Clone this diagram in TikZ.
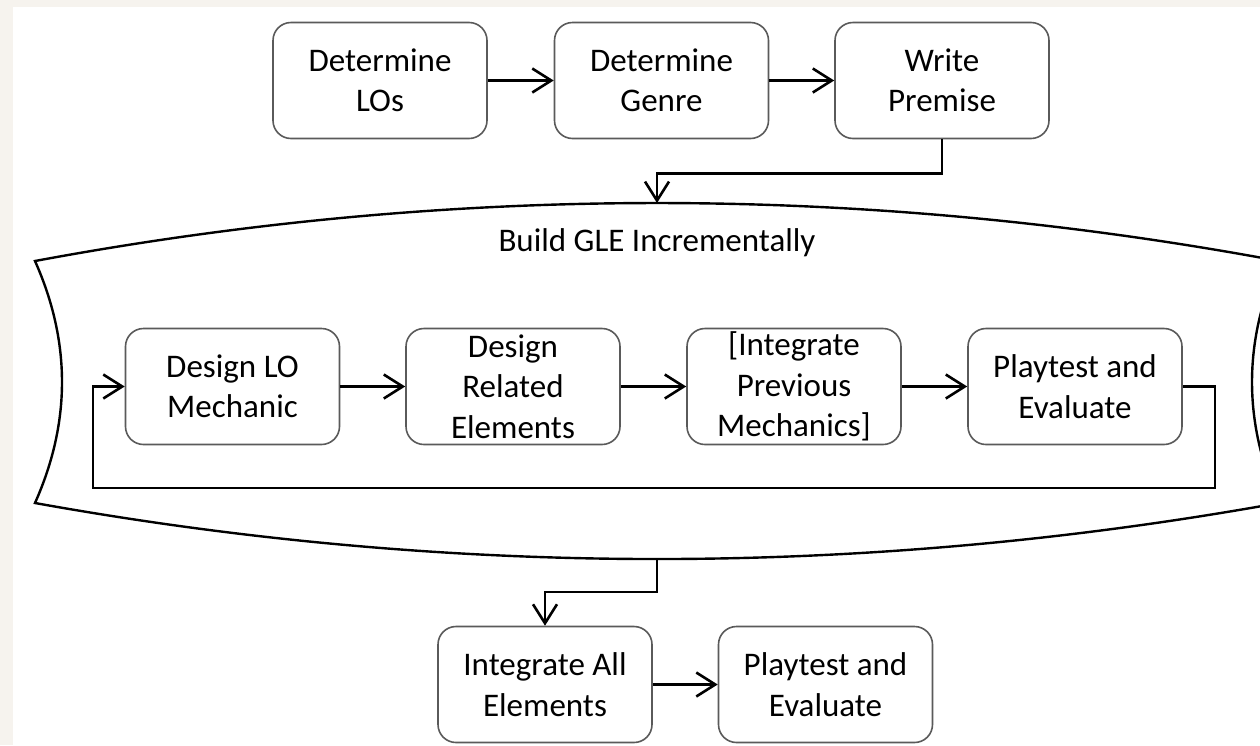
\documentclass[tikz,border=0pt]{standalone}
\usepackage{fontspec}
\setmainfont{Carlito}
\usetikzlibrary{arrows.meta,calc}
\definecolor{pagebg}{HTML}{F6F3EE}
\definecolor{boxline}{HTML}{5A5A5A}
\tikzset{
  stepbox/.style={draw=boxline, line width=1.6pt, rounded corners=18pt, fill=white,
    minimum width=214pt, minimum height=116pt, inner sep=0pt, align=center,
    font=\fontsize{33}{40.5}\selectfont},
  conn/.style={draw=black, line width=2.6pt,
    -{Straight Barb[length=19pt,width=24pt]}},
  plainline/.style={draw=black, line width=2.6pt},
  outline/.style={draw=black, line width=2.4pt}
}
\begin{document}
\begin{tikzpicture}[x=1pt, y=-1pt]
  % page and white sheet
  \fill[pagebg] (0,0) rectangle (1260,745);
  \fill[white] (13,7) rectangle (1260,745);
  \useasboundingbox (0,0) rectangle (1260,745);

  % top row
  \node[stepbox] (lo)      at (380,80.5)   {Determine\\LOs};
  \node[stepbox] (genre)   at (661.5,80.5) {Determine\\Genre};
  \node[stepbox] (premise) at (942,80.5)   {Write\\Premise};

  % incremental build container
  \draw[outline, fill=white]
    (35,261) .. controls (449.7,183.7) and (864.3,183.7) .. (1279,261)
    .. controls (1243,341.7) and (1243,422.3) .. (1279,503)
    .. controls (864.3,577.7) and (449.7,577.7) .. (35,503)
    .. controls (71,422.3) and (71,341.7) .. (35,261) -- cycle;
  \coordinate (gletop) at (657,203);
  \coordinate (glebot) at (657,559);
  \node[font=\fontsize{33}{40.5}\selectfont] (gletitle) at (657,243) {Build GLE Incrementally};

  % inner loop
  \node[stepbox] (mech)    at (232.5,386.5) {Design LO\\Mechanic};
  \node[stepbox] (related) at (513,386.5)   {Design\\Related\\Elements};
  \node[stepbox] (integ)   at (794,386.5)   {[Integrate\\Previous\\Mechanics]};
  \node[stepbox] (play)    at (1075,386.5)  {Playtest and\\Evaluate};

  % final row
  \node[stepbox] (all)   at (545,684.5)   {Integrate All\\Elements};
  \node[stepbox] (final) at (825.5,684.5) {Playtest and\\Evaluate};

  % connectors
  \draw[conn] (lo) -- (genre);
  \draw[conn] (genre) -- (premise);
  \draw[conn] (premise.south) -- ++(0,34) -| (gletop);

  \draw[conn] (mech) -- (related);
  \draw[conn] (related) -- (integ);
  \draw[conn] (integ) -- (play);
  \draw[conn] (play.east) -- ++(32,0) |- (93,488) |- (mech.west);

  \draw[conn] (glebot) -- ++(0,33) -| (all.north);
  \draw[conn] (all) -- (final);
\end{tikzpicture}
\end{document}
